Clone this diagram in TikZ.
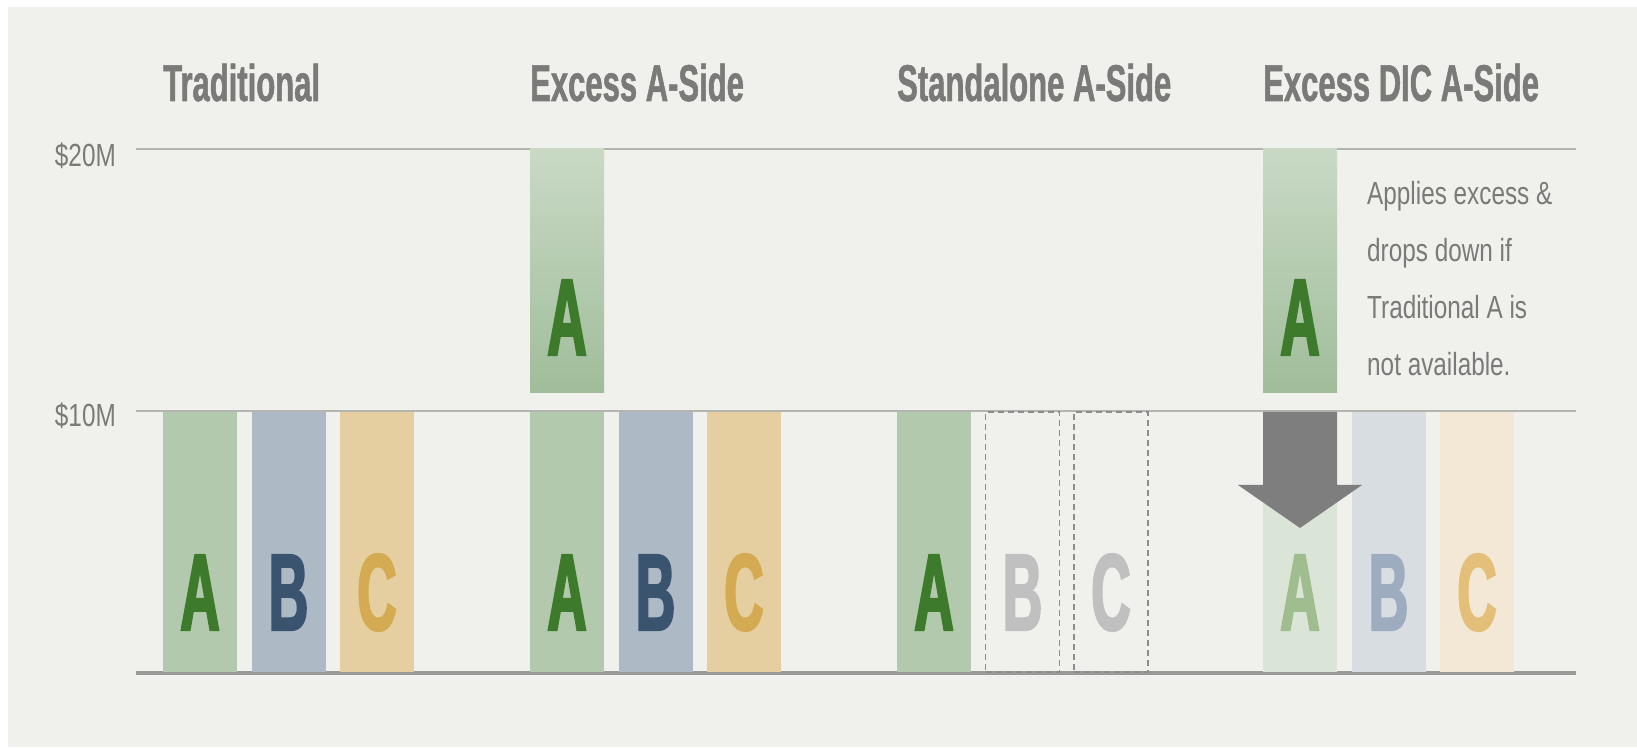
\documentclass[tikz,border=0pt]{standalone}
\usepackage{fontspec}
\usetikzlibrary{positioning}
\newfontfamily\titlefont{Liberation Sans}[FakeStretch=0.6, FakeBold=1]
\newfontfamily\towerfont{Liberation Sans}[FakeStretch=0.5, FakeBold=2]
\newfontfamily\notefont{Liberation Sans}[FakeStretch=0.76]
\definecolor{bggray}{HTML}{F0F0EC}
\definecolor{labelgray}{HTML}{7A7A78}
\definecolor{linegray}{HTML}{B4B4B0}
\definecolor{floorgray}{HTML}{9A9A98}
\definecolor{greenbar}{HTML}{B3C9AD}
\definecolor{greentxt}{HTML}{3D7A2C}
\definecolor{bluebar}{HTML}{ADB9C5}
\definecolor{bluetxt}{HTML}{3A5470}
\definecolor{tanbar}{HTML}{E5CFA0}
\definecolor{tantxt}{HTML}{D4AA52}
\definecolor{topgreen}{HTML}{C9D9C5}
\definecolor{lowgreen}{HTML}{A0BD9A}
\definecolor{fadegreenbar}{HTML}{DBE5D7}
\definecolor{fadegreentxt}{HTML}{A0BD90}
\definecolor{fadebluebar}{HTML}{D8DDE2}
\definecolor{fadebluetxt}{HTML}{9EACBF}
\definecolor{fadetanbar}{HTML}{F2E8D5}
\definecolor{fadetantxt}{HTML}{E3BF7A}
\definecolor{dashgray}{HTML}{8C8C8C}
\definecolor{ghostgray}{HTML}{C0C0C0}
\definecolor{arrowgray}{HTML}{7E7E7E}
\begin{document}
\begin{tikzpicture}[x=1pt, y=1pt]
\tikzstyle{tower}=[rectangle, minimum width=74pt, minimum height=260pt, inner sep=0pt, outer sep=0pt, text height=176pt, text depth=0pt, font=\towerfont\bfseries\fontsize{109}{109}\selectfont, node distance=14.5pt]
\tikzstyle{toptower}=[tower, minimum height=244pt, text height=168pt, top color=topgreen, bottom color=lowgreen, text=greentxt, node distance=19pt]
\tikzstyle{ghost}=[tower, draw=dashgray, line width=1.5pt, dash pattern=on 6pt off 4pt, text=ghostgray]
\tikzstyle{title}=[anchor=base west, inner sep=0pt, text=labelgray, font=\titlefont\bfseries\fontsize{51.7}{52}\selectfont]
\tikzstyle{amount}=[anchor=east, inner sep=0pt, text=labelgray, font=\notefont\fontsize{32}{32}\selectfont]
\tikzstyle{limitline}=[line width=2pt, draw=linegray]
\tikzstyle{floorline}=[line width=4pt, draw=floorgray]
    % background
    \fill[white] (0,0) rectangle (1637,747);
    \fill[bggray] (8,0) rectangle (1637,740);
    % scale
    \draw[limitline] (136,598) -- (1576,598);
    \draw[limitline] (136,336) -- (1576,336);
    \draw[floorline] (136,74) -- (1576,74);
    \node[amount] (m20) at (116,591) {\$20M};
    \node[amount] (m10) at (116,331) {\$10M};
    % Traditional
    \node[tower, fill=greenbar, text=greentxt] (a1) at (200,205) {A};
    \node[tower, fill=bluebar, text=bluetxt] (b1) [right=of a1] {B};
    \node[tower, fill=tanbar, text=tantxt] (c1) [right=of b1] {C};
    % Excess A-Side
    \node[tower, fill=greenbar, text=greentxt] (a2) at (567,205) {A};
    \node[tower, fill=bluebar, text=bluetxt] (b2) [right=of a2] {B};
    \node[tower, fill=tanbar, text=tantxt] (c2) [right=of b2] {C};
    \node[toptower] (x2) [above=of a2] {A};
    % Standalone A-Side
    \node[tower, fill=greenbar, text=greentxt] (a3) at (934,205) {A};
    \node[ghost] (b3) [right=of a3] {B};
    \node[ghost] (c3) [right=of b3] {C};
    % Excess DIC A-Side
    \node[tower, fill=fadegreenbar, text=fadegreentxt] (a4) at (1300,205) {A};
    \node[tower, fill=fadebluebar, text=fadebluetxt] (b4) [right=of a4] {B};
    \node[tower, fill=fadetanbar, text=fadetantxt] (c4) [right=of b4] {C};
    \node[toptower] (x4) [above=of a4] {A};
    \coordinate (tip) at ([yshift=-116pt]a4.north);
    \fill[arrowgray] (a4.north west) -- (a4.north east) -- ([yshift=-73pt]a4.north east)
        -- ++(25pt,0) -- (tip) -- ([xshift=-25pt, yshift=-73pt]a4.north west)
        -- ([yshift=-73pt]a4.north west) -- cycle;
    \node[anchor=north west, align=left, inner sep=0pt, text=labelgray, font=\notefont\fontsize{32}{57}\selectfont] (drop) at (1367,566) {Applies excess \&\\drops down if\\Traditional A is\\not available.};
    % headings
    \node[title] (t1) at (a1.west |- 0,646) {Traditional};
    \node[title] (t2) at (a2.west |- 0,646) {Excess A-Side};
    \node[title] (t3) at (a3.west |- 0,646) {Standalone A-Side};
    \node[title] (t4) at (a4.west |- 0,646) {Excess DIC A-Side};
\end{tikzpicture}
\end{document}
